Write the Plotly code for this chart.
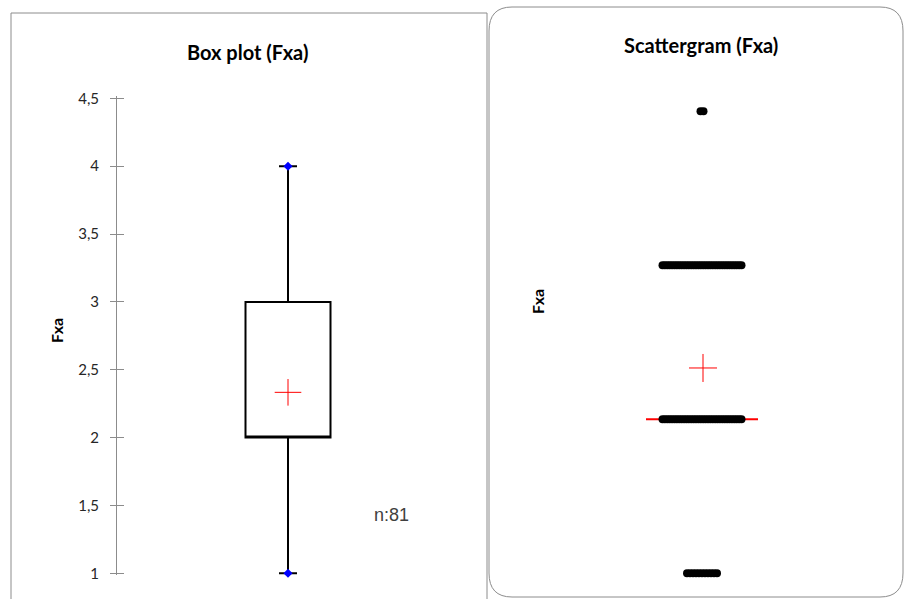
import numpy as np
import plotly.graph_objects as go

# ---- data ----
fxa_levels = [1, 2, 3, 4]
fxa_counts = [11, 34, 34, 2]
tick_vals = [1, 1.5, 2, 2.5, 3, 3.5, 4, 4.5]
tick_text = ["1", "1,5", "2", "2,5", "3", "3,5", "4", "4,5"]
box_title = "Box plot (Fxa)"
scat_title = "Scattergram (Fxa)"
var_name = "Fxa"

values = np.repeat(fxa_levels, fxa_counts)
n = len(values)
mean_v = float(values.mean())
median_v = float(np.median(values))

W, H = 904, 599
def px_x(p):
    return p / W
def px_y(p):
    return 1 - p / H

fig = go.Figure()

# ---- left: box plot ----
LX0, LX1 = 117, 459
lw = LX1 - LX0
fig.add_trace(go.Box(
    y=values, x=[0.5] * n, xaxis="x", yaxis="y",
    width=85 / lw, whiskerwidth=18 / 85,
    boxpoints=False, quartilemethod="linear",
    line=dict(color="black", width=2), fillcolor="white",
    showlegend=False, hoverinfo="skip"))
fig.add_trace(go.Scatter(
    x=[0.5, 0.5], y=[values.min(), values.max()], xaxis="x", yaxis="y",
    mode="markers", marker=dict(symbol="diamond", size=7, color="blue"),
    cliponaxis=False, showlegend=False))
fig.add_trace(go.Scatter(
    x=[0.5], y=[mean_v], xaxis="x", yaxis="y", mode="markers",
    marker=dict(symbol="cross-thin", size=19, line=dict(color="red", width=1)),
    cliponaxis=False, showlegend=False))
# empty trace so the overlaid tick axis (inside ticks) is drawn
fig.add_trace(go.Scatter(
    x=[None], y=[None], xaxis="x", yaxis="y3", mode="markers",
    showlegend=False, hoverinfo="skip"))

# ---- right: scattergram ----
RX0, RX1 = 560, 844
rw = RX1 - RX0
xs, ys = [], []
for lvl, c in zip(fxa_levels, fxa_counts):
    step = min(3.0, 79.0 / (c - 1)) if c > 1 else 0
    for i in range(c):
        xs.append(0.5 + (i - (c - 1) / 2) * step / rw)
        ys.append(lvl)
fig.add_trace(go.Scatter(
    x=[0.5 - 56 / rw, 0.5 + 56 / rw], y=[median_v, median_v],
    xaxis="x2", yaxis="y2", mode="lines", line=dict(color="red", width=2),
    cliponaxis=False, showlegend=False))
fig.add_trace(go.Scatter(
    x=xs, y=ys, xaxis="x2", yaxis="y2", mode="markers",
    marker=dict(symbol="circle", size=8, color="black"),
    cliponaxis=False, showlegend=False))
fig.add_trace(go.Scatter(
    x=[0.5 + 1 / rw], y=[mean_v], xaxis="x2", yaxis="y2", mode="markers",
    marker=dict(symbol="cross-thin", size=20, line=dict(color="red", width=1)),
    cliponaxis=False, showlegend=False))

tickfont = dict(family="Lato", size=15, color="#262626")
fig.update_layout(
    width=W, height=H, margin=dict(l=0, r=0, t=0, b=0, pad=0, autoexpand=False),
    paper_bgcolor="white", plot_bgcolor="rgba(0,0,0,0)",
    xaxis=dict(domain=[px_x(LX0), px_x(LX1)], range=[0, 1], visible=False,
               fixedrange=True, automargin=False),
    yaxis=dict(domain=[px_y(575.3), px_y(96.3)], range=[0.985, 4.515],
               anchor="x", tickvals=tick_vals, ticktext=tick_text,
               ticks="outside", ticklen=6, tickcolor="#8c8c8c",
               showline=True, linecolor="#8c8c8c", linewidth=1,
               showgrid=False, zeroline=False, tickfont=tickfont,
               ticklabelstandoff=8, automargin=False),
    yaxis3=dict(overlaying="y", anchor="x", range=[0.985, 4.515],
                tickvals=tick_vals, ticks="inside", ticklen=7,
                tickcolor="#8c8c8c", showticklabels=False, showline=False,
                showgrid=False, zeroline=False, side="left", automargin=False),
    xaxis2=dict(domain=[px_x(RX0), px_x(RX1)], range=[0, 1], visible=False,
                anchor="y2", automargin=False),
    yaxis2=dict(domain=[px_y(573.3), px_y(111.3)], range=[1, 4],
                visible=False, anchor="x2", automargin=False),
    shapes=[
        dict(type="rect", xref="paper", yref="paper",
             x0=px_x(11), x1=px_x(487), y0=px_y(610), y1=px_y(13),
             line=dict(color="#8c8c8c", width=1), fillcolor="rgba(0,0,0,0)",
             layer="below"),
        dict(type="path", xref="paper", yref="paper",
             path=("M {a},{b} L {c},{b} Q {d},{b} {d},{e} L {d},{f} Q {d},{g} {c},{g} "
                   "L {a},{g} Q {h},{g} {h},{f} L {h},{e} Q {h},{b} {a},{b} Z").format(
                 a=px_x(512), b=px_y(7), c=px_x(880), d=px_x(903),
                 e=px_y(31), f=px_y(573), g=px_y(597), h=px_x(489)),
             line=dict(color="#8c8c8c", width=1), fillcolor="rgba(0,0,0,0)",
             layer="below"),
    ],
    annotations=[
        dict(text="<b>" + box_title + "</b>", x=px_x(248), y=px_y(52),
             xref="paper", yref="paper", showarrow=False,
             font=dict(family="Lato", size=20, color="black"),
             xanchor="center", yanchor="middle"),
        dict(text="<b>" + scat_title + "</b>", x=px_x(701), y=px_y(45),
             xref="paper", yref="paper", showarrow=False,
             font=dict(family="Lato", size=20, color="black"),
             xanchor="center", yanchor="middle"),
        dict(text="<b>" + var_name + "</b>", x=px_x(56), y=px_y(331),
             xref="paper", yref="paper", showarrow=False, textangle=-90,
             font=dict(family="Lato", size=16, color="black"),
             xanchor="center", yanchor="middle"),
        dict(text="<b>" + var_name + "</b>", x=px_x(537), y=px_y(302),
             xref="paper", yref="paper", showarrow=False, textangle=-90,
             font=dict(family="Lato", size=16, color="black"),
             xanchor="center", yanchor="middle"),
        dict(text="n:%d" % n, x=px_x(391), y=px_y(515),
             xref="paper", yref="paper", showarrow=False,
             font=dict(family="Liberation Sans", size=18, color="#404040"),
             xanchor="center", yanchor="middle"),
    ],
)

fig.write_html("out.html")
